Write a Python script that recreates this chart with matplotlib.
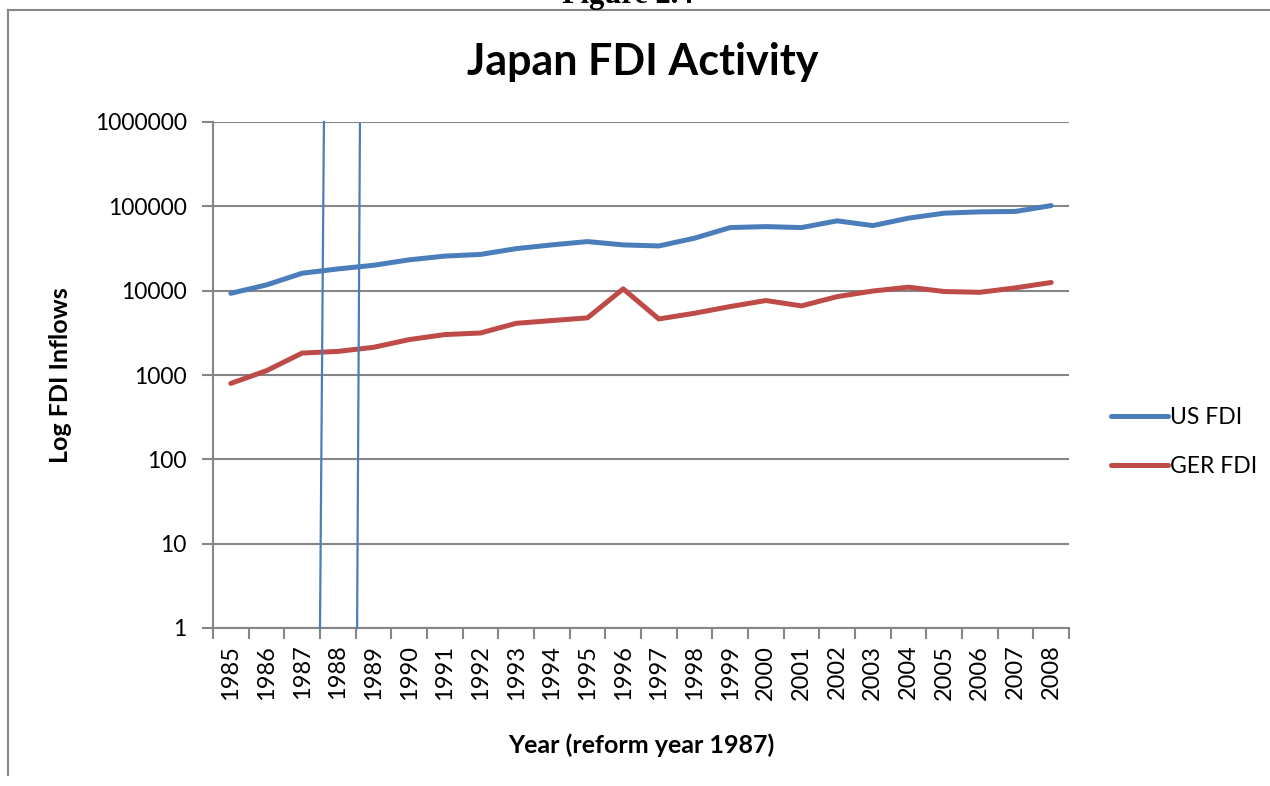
import numpy as np
import matplotlib
matplotlib.use("Agg")
import matplotlib.pyplot as plt
from matplotlib.lines import Line2D
from matplotlib.ticker import FixedLocator, FixedFormatter, NullLocator

years = ["1985", "1986", "1987", "1988", "1989", "1990", "1991", "1992",
         "1993", "1994", "1995", "1996", "1997", "1998", "1999", "2000",
         "2001", "2002", "2003", "2004", "2005", "2006", "2007", "2008"]
us_fdi = [9300, 11700, 16100, 18100, 20000, 23200, 25700, 26900,
          31500, 34900, 38200, 34900, 33900, 41900, 56000, 57500,
          56000, 67300, 59100, 72400, 83000, 86000, 87000, 102000]
ger_fdi = [795, 1125, 1820, 1905, 2130, 2630, 3015, 3150,
           4100, 4420, 4760, 10500, 4620, 5400, 6480, 7640,
           6600, 8500, 9900, 11000, 9770, 9560, 10800, 12500]
y_ticks = [1, 10, 100, 1000, 10000, 100000, 1000000]
y_labels = ["1", "10", "100", "1000", "10000", "100000", "1000000"]

# hand-drawn reform markers (category position at bottom / top, top value)
marker_bottom = [2.50, 3.54]
marker_top = [2.61, 3.62]
marker_top_val = [1000000, 950000]

BLUE = "#4a7ebb"
RED = "#be4b48"
GREY = "#868686"
FONT = "Lato"

fig = plt.figure(figsize=(12.7, 7.86), dpi=100)
ax = fig.add_axes([213 / 1270, 1 - 628 / 786, (1069 - 213) / 1270, (628 - 122) / 786])

x = np.arange(len(years))
ax.plot(x, us_fdi, color=BLUE, lw=3.6, solid_capstyle="round", solid_joinstyle="round", label="US FDI", zorder=3)
ax.plot(x, ger_fdi, color=RED, lw=3.6, solid_capstyle="round", solid_joinstyle="round", label="GER FDI", zorder=3)

for xb, xt, yt in zip(marker_bottom, marker_top, marker_top_val):
    ax.plot([xb, xt], [1, yt], color=BLUE, lw=1.6, zorder=4, clip_on=False)

ax.set_yscale("log")
ax.set_ylim(1, 1000000)
ax.set_xlim(-0.5, len(years) - 0.5)

ax.yaxis.set_major_locator(FixedLocator(y_ticks))
ax.yaxis.set_major_formatter(FixedFormatter(y_labels))
ax.yaxis.set_minor_locator(NullLocator())
ax.set_xticks(x)
ax.set_xticklabels(years, rotation=90)
ax.set_xticks(np.arange(len(years) + 1) - 0.5, minor=True)

ax.tick_params(axis="x", which="major", length=0, pad=12, labelsize=17)
ax.tick_params(axis="x", which="minor", length=8, width=1.5, color=GREY)
ax.tick_params(axis="y", which="major", length=8, width=1.5, color=GREY, pad=11, labelsize=16.5)
for lab in ax.get_xticklabels() + ax.get_yticklabels():
    lab.set_fontfamily(FONT)

ax.grid(axis="y", color=GREY, lw=1.5)
ax.set_axisbelow(True)
for side in ["top", "right"]:
    ax.spines[side].set_visible(False)
for side in ["left", "bottom"]:
    ax.spines[side].set_color(GREY)
    ax.spines[side].set_linewidth(1.5)

fig.text(643 / 1270, 1 - 62 / 786, "Japan FDI Activity", fontsize=31, fontweight="bold",
         fontfamily=FONT, ha="center", va="center")
fig.text(60 / 1270, 1 - 375 / 786, "Log FDI Inflows", fontsize=18, fontweight="bold",
         fontfamily=FONT, rotation=90, ha="center", va="center")
fig.text(641 / 1270, 1 - 745 / 786, "Year (reform year 1987)", fontsize=18, fontweight="bold",
         fontfamily=FONT, ha="center", va="center")
fig.text(628 / 1270, 1 - 3 / 786, "Figure 2.4", fontsize=22, fontweight="bold",
         fontfamily="Liberation Serif", ha="center", va="baseline")

# chart frame (top and left edges only)
fig.add_artist(Line2D([8 / 1270, 1.0], [1 - 10 / 786, 1 - 10 / 786], transform=fig.transFigure, color=GREY, lw=1.5))
fig.add_artist(Line2D([8 / 1270, 8 / 1270], [1 - 10 / 786, 1 - 775 / 786], transform=fig.transFigure, color=GREY, lw=1.5))

leg = fig.legend(loc="center left", bbox_to_anchor=(1090 / 1270, 1 - 442 / 786), frameon=False,
                 handlelength=2.5, handletextpad=0.1, labelspacing=1.25,
                 prop={"family": FONT, "size": 16.5})

fig.savefig("out.png", dpi=100)
